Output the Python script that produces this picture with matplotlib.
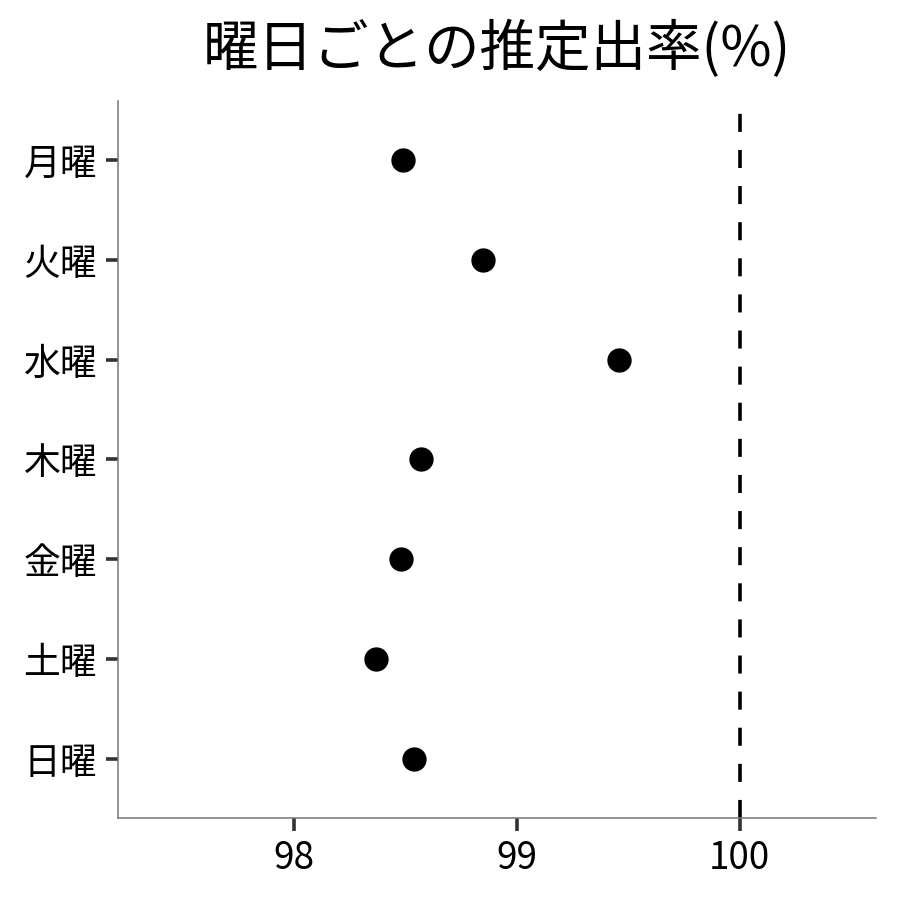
import matplotlib
matplotlib.use("Agg")
import matplotlib.pyplot as plt

plt.rcParams['font.family'] = ['Noto Sans CJK JP', 'DejaVu Sans']

# data
days = ['月曜', '火曜', '水曜', '木曜', '金曜', '土曜', '日曜']
rates = [98.49, 98.85, 99.46, 98.57, 98.48, 98.37, 98.54]
x_ticks = [98, 99, 100]
ref_line = 100

fig = plt.figure(figsize=(9, 9), dpi=100)
ax = fig.add_axes([0.131, 0.091, 0.842, 0.797])

ypos = list(range(len(days)))[::-1]  # first day at top
ax.plot(rates, ypos, 'o', color='black', markersize=16.5, linestyle='none')
ax.axvline(ref_line, color='black', linewidth=2.6, dashes=(5.0, 5.0))

ax.set_xlim(97.21, 100.61)
ax.set_ylim(-0.59, 6.59)
ax.set_xticks(x_ticks)
ax.set_xticklabels([str(t) for t in x_ticks])
ax.set_yticks(ypos)
ax.set_yticklabels(days)

ax.tick_params(axis='both', labelsize=26.5, length=9, width=2.6, color='#333333',
               labelcolor='black', pad=6)
for side in ['top', 'right']:
    ax.spines[side].set_visible(False)
for side in ['left', 'bottom']:
    ax.spines[side].set_color('#777777')
    ax.spines[side].set_linewidth(1.1)

ax.set_title('曜日ごとの推定出率(%)', fontsize=40, pad=25)

fig.savefig('out.png', dpi=100)
